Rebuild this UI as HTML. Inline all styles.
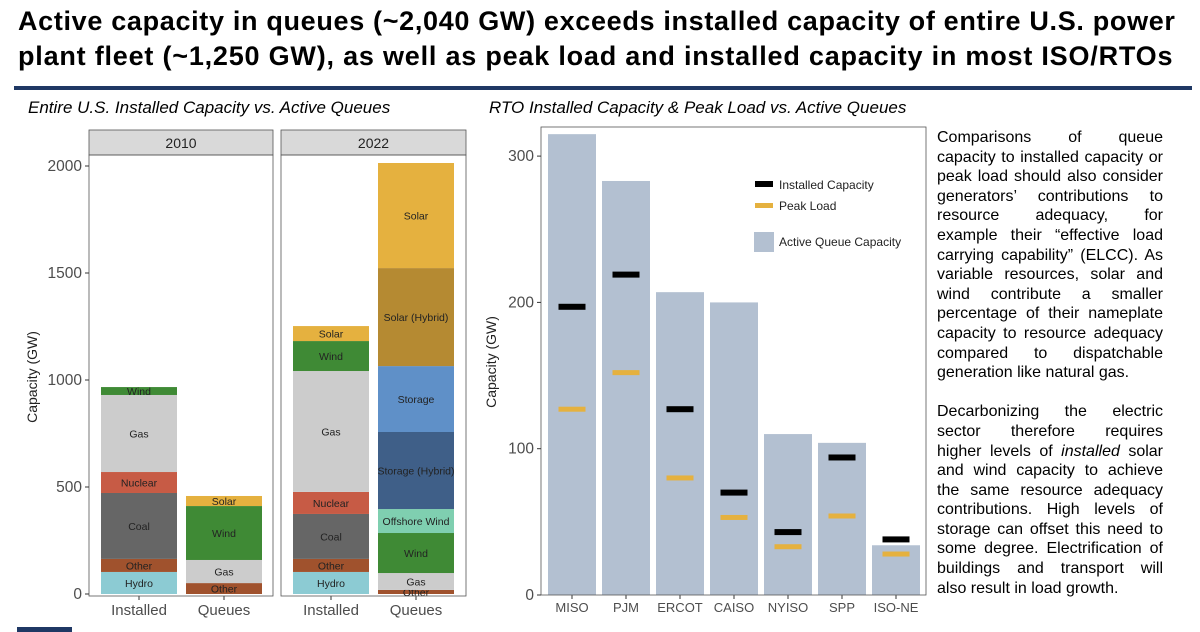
<!DOCTYPE html>
<html><head><meta charset="utf-8">
<style>
body{margin:0;width:1200px;height:632px;background:#fff;font-family:"Liberation Sans",Arial,sans-serif;overflow:hidden;position:relative}
#title{position:absolute;left:18px;top:4px;font-size:27px;font-weight:bold;line-height:35px;color:#000;white-space:nowrap}
#title span{display:block}
#rule{position:absolute;left:14px;top:86px;width:1178px;height:4px;background:#1f3864}
.sub{position:absolute;top:98px;font-size:17px;font-style:italic;color:#000}
#note{position:absolute;left:937px;top:128px;width:226px;font-size:16px;line-height:19.6px;color:#000}
#note div{text-align:justify;text-align-last:justify;white-space:nowrap}
#note div.l{text-align-last:left}
#foot{position:absolute;left:17px;top:627px;width:55px;height:5px;background:#1f3864}
svg{position:absolute;left:0;top:0}
</style></head><body>
<div id="title"><span style="letter-spacing:0.67px">Active capacity in queues (~2,040 GW) exceeds installed capacity of entire U.S. power</span><span style="letter-spacing:0.79px">plant fleet (~1,250 GW), as well as peak load and installed capacity in most ISO/RTOs</span></div>
<div id="rule"></div>
<div class="sub" style="left:28px">Entire U.S. Installed Capacity vs. Active Queues</div>
<div class="sub" style="left:489px">RTO Installed Capacity &amp; Peak Load vs. Active Queues</div>
<div id="note">
<div>Comparisons of queue</div><div>capacity to installed capacity or</div><div>peak load should also consider</div><div>generators’ contributions to</div><div>resource adequacy, for</div><div>example their “effective load</div><div>carrying capability” (ELCC). As</div><div>variable resources, solar and</div><div>wind contribute a smaller</div><div>percentage of their nameplate</div><div>capacity to resource adequacy</div><div>compared to dispatchable</div><div class="l">generation like natural gas.</div>
<div class="l">&nbsp;</div>
<div>Decarbonizing the electric</div><div>sector therefore requires</div><div>higher levels of <i>installed</i> solar</div><div>and wind capacity to achieve</div><div>the same resource adequacy</div><div>contributions. High levels of</div><div>storage can offset this need to</div><div>some degree. Electrification of</div><div>buildings and transport will</div><div class="l">also result in load growth.</div>
</div>
<div id="foot"></div>
<svg id="chart" width="1200" height="632" xmlns="http://www.w3.org/2000/svg" font-family="Liberation Sans, Arial, sans-serif"></svg>
<script>
// ---- Left chart data ----
const segNames2010Inst = ["Hydro","Other","Coal","Nuclear","Gas","Wind"];
const segVals2010Inst = [103,61,308,98,360,37];
const segNames2010Q = ["Other","Gas","Wind","Solar"];
const segVals2010Q = [51,108,252,47];
const segNames2022Inst = ["Hydro","Other","Coal","Nuclear","Gas","Wind","Solar"];
const segVals2022Inst = [103,61,210,103,565,140,70];
const segNames2022Q = ["Other","Gas","Wind","Offshore Wind","Storage (Hybrid)","Storage","Solar (Hybrid)","Solar"];
const segVals2022Q = [19,79,187,112,360,308,458,491];
const leftTicks = [0,500,1000,1500,2000];
const colors = {"Hydro":"#8ccbd3","Other":"#a0522d","Coal":"#666666","Nuclear":"#c75b45","Gas":"#cccccc","Wind":"#3f8a35","Solar":"#e5b13f","Offshore Wind":"#7fcfb0","Storage (Hybrid)":"#3f5f88","Storage":"#5f90c8","Solar (Hybrid)":"#b58a32"};
// ---- Right chart data ----
const rtos = ["MISO","PJM","ERCOT","CAISO","NYISO","SPP","ISO-NE"];
const queueCap = [315,283,207,200,110,104,34];
const installedCap = [197,219,127,70,43,94,38];
const peakLoad = [127,152,80,53,33,54,28];
const rightTicks = [0,100,200,300];

const svg = document.getElementById('chart');
const NS = "http://www.w3.org/2000/svg";
function mk(tag, attrs, parent){const e=document.createElementNS(NS,tag);for(const k in attrs)e.setAttribute(k,attrs[k]);(parent||svg).appendChild(e);return e;}
function txt(s, attrs, parent){const e=mk('text',attrs,parent);e.textContent=s;return e;}

const yL = v => 594 - v*0.214;
const panels = [
 {x0:89,x1:273,label:"2010",bars:[{n:segNames2010Inst,v:segVals2010Inst,x:101,lab:"Installed"},{n:segNames2010Q,v:segVals2010Q,x:186,lab:"Queues"}]},
 {x0:281,x1:466,label:"2022",bars:[{n:segNames2022Inst,v:segVals2022Inst,x:293,lab:"Installed"},{n:segNames2022Q,v:segVals2022Q,x:378,lab:"Queues"}]}
];
const bw = 76;
panels.forEach((p,pi)=>{
  let r=mk('rect',{x:p.x0,y:130,width:p.x1-p.x0,height:25,fill:'#d9d9d9',stroke:'#555','stroke-width':0.8});
  
  
  let t=txt(p.label,{x:(p.x0+p.x1)/2,y:148,'text-anchor':'middle','font-size':14,fill:'#222'});
  
  
  p.bars.forEach(b=>{
    let cum=0;
    b.v.forEach((v,i)=>{
      const nm=b.n[i];
      const s=mk('rect',{x:b.x,y:yL(cum+v),width:bw,height:v*0.214,fill:colors[nm]});
      
      
      const cy=yL(cum+v/2)+4;
      const l=txt(nm,{x:b.x+bw/2,y:cy,'text-anchor':'middle','font-size':10.5,fill:'#222'});
      
      
      cum+=v;
    });
    mk('line',{x1:b.x+bw/2,x2:b.x+bw/2,y1:596,y2:600,stroke:'#333'});
    const xl=txt(b.lab,{x:b.x+bw/2,y:615,'text-anchor':'middle','font-size':15,fill:'#4d4d4d'});
    
    
  });
  let fr=mk('rect',{x:p.x0,y:155,width:p.x1-p.x0,height:441,fill:'none',stroke:'#555','stroke-width':0.8});
  
  
});
leftTicks.forEach(v=>{
  mk('line',{x1:85,x2:89,y1:yL(v),y2:yL(v),stroke:'#333'});
  const t=txt(String(v),{x:82,y:yL(v)+5,'text-anchor':'end','font-size':15.5,fill:'#4d4d4d'});
  
  
});
let yt=txt("Capacity (GW)",{x:0,y:0,'font-size':14,fill:'#222','text-anchor':'middle',transform:'translate(37,377) rotate(-90)'});



const yR = v => 595 - v*1.463;
const rx0=541, rx1=926, step=(rx1-rx0-7)/rtos.length;
rtos.forEach((n,i)=>{
  const x=548+i*step, w=48, cx=x+w/2;
  const b=mk('rect',{x:x,y:yR(queueCap[i]),width:w,height:queueCap[i]*1.463,fill:'#b3c0d1'});
  
  
  const m1=mk('rect',{x:cx-13.5,y:yR(installedCap[i])-3,width:27,height:6,fill:'#000'});
  
  
  const m2=mk('rect',{x:cx-13.5,y:yR(peakLoad[i])-2.5,width:27,height:5,fill:'#e5b13f'});
  
  
  mk('line',{x1:cx,x2:cx,y1:595,y2:599,stroke:'#333'});
  const t=txt(n,{x:cx,y:612,'text-anchor':'middle','font-size':13,fill:'#4d4d4d'});
  
  
});
let rf=mk('rect',{x:rx0,y:127,width:rx1-rx0,height:468,fill:'none',stroke:'#555','stroke-width':0.8});


rightTicks.forEach(v=>{
  mk('line',{x1:537,x2:541,y1:yR(v),y2:yR(v),stroke:'#333'});
  const t=txt(String(v),{x:534,y:yR(v)+5,'text-anchor':'end','font-size':15.5,fill:'#4d4d4d'});
  
  
});
let yt2=txt("Capacity (GW)",{x:0,y:0,'font-size':14,fill:'#222','text-anchor':'middle',transform:'translate(496,362) rotate(-90)'});


const lg=mk('g',{});


mk('rect',{x:755,y:181,width:18,height:6,fill:'#000'},lg);
txt("Installed Capacity",{x:779,y:189,'font-size':12,fill:'#222'},lg);
mk('rect',{x:755,y:203,width:18,height:5,fill:'#e5b13f'},lg);
txt("Peak Load",{x:779,y:210,'font-size':12,fill:'#222'},lg);
mk('rect',{x:754,y:232,width:20,height:20,fill:'#b3c0d1'},lg);
txt("Active Queue Capacity",{x:779,y:246,'font-size':12,fill:'#222'},lg);
</script>
</body></html>
